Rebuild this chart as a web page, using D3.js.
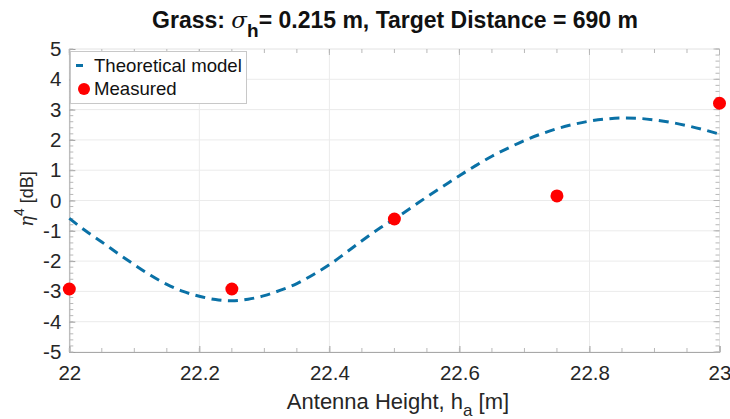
<!DOCTYPE html>
<html>
<head>
<meta charset="utf-8">
<script src="https://cdn.jsdelivr.net/npm/d3@7"></script>
<style>
  html, body { margin: 0; padding: 0; background: #fff; }
  svg { display: block; font-family: "Liberation Sans", Arial, sans-serif; }
</style>
</head>
<body>
<svg id="chart" width="730" height="419"></svg>
<script>
// ---- data ----
const modelHeight = [22.000, 22.025, 22.050, 22.075, 22.100, 22.125, 22.150, 22.175, 22.200, 22.225,
  22.250, 22.275, 22.300, 22.325, 22.350, 22.375, 22.400, 22.425, 22.450, 22.475,
  22.500, 22.525, 22.550, 22.575, 22.600, 22.625, 22.650, 22.675, 22.700, 22.725,
  22.750, 22.775, 22.800, 22.825, 22.850, 22.875, 22.900, 22.925, 22.950, 22.975, 23.000];
const modelValue = [-0.59, -1.00, -1.37, -1.75, -2.12, -2.47, -2.77, -3.00, -3.16, -3.27,
  -3.31, -3.26, -3.14, -2.96, -2.74, -2.45, -2.12, -1.73, -1.33, -0.95,
  -0.61, -0.25, 0.12, 0.47, 0.82, 1.15, 1.46, 1.73, 1.98, 2.19,
  2.37, 2.51, 2.62, 2.69, 2.72, 2.71, 2.66, 2.58, 2.47, 2.34, 2.19];
const measuredHeight = [22.00, 22.25, 22.50, 22.75, 23.00];
const measuredValue = [-2.92, -2.92, -0.61, 0.15, 3.21];
const xTicks = [22, 22.2, 22.4, 22.6, 22.8, 23];
const yTicks = [-5, -4, -3, -2, -1, 0, 1, 2, 3, 4, 5];
const legendLabels = ["Theoretical model", "Measured"];

// ---- layout ----
const svg = d3.select("#chart");
const L = 69.3, R = 719.5, T = 49, B = 352;
const x = d3.scaleLinear().domain([22, 23]).range([L, R]);
const y = d3.scaleLinear().domain([-5, 5]).range([B, T]);
const lineColor = "#0a71a6";
const textColor = "#262626";

// grid
const grid = svg.append("g");
grid.selectAll("line.gx").data(xTicks).join("line")
  .attr("x1", d => x(d)).attr("x2", d => x(d)).attr("y1", T).attr("y2", B)
  .attr("stroke", "#ebebeb").attr("stroke-width", 1);
grid.selectAll("line.gy").data(yTicks).join("line")
  .attr("y1", d => y(d)).attr("y2", d => y(d)).attr("x1", L).attr("x2", R)
  .attr("stroke", "#ebebeb").attr("stroke-width", 1);

// box edges (top / right faint)
svg.append("line").attr("x1", L).attr("x2", R).attr("y1", T).attr("y2", T).attr("stroke", "#ececec");
svg.append("line").attr("x1", R).attr("x2", R).attr("y1", T).attr("y2", B).attr("stroke", "#e6e6e6");

// minor tick values
const xMinor = d3.range(0, 21).map(i => 22 + i * 0.05);
const yMinor = d3.range(0, 51).map(i => -5 + i * 0.2);

// axes (inward ticks)
const fmt = d => String(d);
const xAxis = d3.axisBottom(x).tickValues(xTicks).tickFormat(fmt).tickSize(-6).tickPadding(13);
const yAxis = d3.axisLeft(y).tickValues(yTicks).tickFormat(fmt).tickSize(-6).tickPadding(8);

const gx = svg.append("g").attr("transform", `translate(0,${B})`).call(xAxis);
const gy = svg.append("g").attr("transform", `translate(${L},0)`).call(yAxis);
[gx, gy].forEach(g => {
  g.select(".domain").attr("stroke", "#a8a8a8");
  g.selectAll(".tick line").attr("stroke", "#a0a0a0");
  g.selectAll(".tick text").attr("fill", textColor).style("font-size", "20.5px")
    .style("font-family", "'Liberation Sans', Arial, sans-serif");
});

// minor ticks
const mt = svg.append("g").attr("stroke", "#b8b8b8").attr("stroke-width", 1);
mt.selectAll("line.xb").data(xMinor).join("line")
  .attr("x1", d => x(d)).attr("x2", d => x(d)).attr("y1", B).attr("y2", B - 4);
mt.selectAll("line.xt").data(xMinor).join("line")
  .attr("x1", d => x(d)).attr("x2", d => x(d)).attr("y1", T).attr("y2", T + 4);
mt.selectAll("line.yl").data(yMinor).join("line")
  .attr("y1", d => y(d)).attr("y2", d => y(d)).attr("x1", L).attr("x2", L + 4);
mt.selectAll("line.yr").data(yMinor).join("line")
  .attr("y1", d => y(d)).attr("y2", d => y(d)).attr("x1", R).attr("x2", R - 4);
mt.selectAll("line.yrm").data(yTicks).join("line")
  .attr("y1", d => y(d)).attr("y2", d => y(d)).attr("x1", R).attr("x2", R - 6);
mt.selectAll("line.xtm").data(xTicks).join("line")
  .attr("x1", d => x(d)).attr("x2", d => x(d)).attr("y1", T).attr("y2", T + 6);

// model curve
const modelData = modelHeight.map((h, i) => [h, modelValue[i]]);
svg.append("path").datum(modelData)
  .attr("fill", "none").attr("stroke", lineColor).attr("stroke-width", 3)
  .attr("stroke-dasharray", "10,6.5")
  .attr("d", d3.line().curve(d3.curveMonotoneX).x(d => x(d[0])).y(d => y(d[1])));

// measured points
svg.selectAll("circle.m").data(measuredHeight.map((h, i) => [h, measuredValue[i]])).join("circle")
  .attr("cx", d => x(d[0])).attr("cy", d => y(d[1])).attr("r", 6.5).attr("fill", "#ff0000");

// legend
const lg = svg.append("g");
lg.append("rect").attr("x", 70.5).attr("y", 51.5).attr("width", 176).attr("height", 52)
  .attr("fill", "#fff").attr("stroke", "#c8c8c8").attr("stroke-width", 1);
lg.append("line").attr("x1", 76).attr("x2", 83).attr("y1", 65.5).attr("y2", 65.5)
  .attr("stroke", lineColor).attr("stroke-width", 3);
lg.append("circle").attr("cx", 84).attr("cy", 89).attr("r", 6).attr("fill", "#ff0000");
lg.selectAll("text").data(legendLabels).join("text")
  .attr("x", 94).attr("y", (d, i) => 71.5 + i * 23.5)
  .attr("fill", "#111").style("font-size", "18.6px").text(d => d);

// title
const title = svg.append("text").attr("x", 395).attr("y", 28).attr("text-anchor", "middle")
  .attr("fill", "#111").style("font-size", "23px").style("font-weight", "bold");
title.append("tspan").text("Grass: ");
title.append("tspan").style("font-style", "italic").style("font-weight", "normal")
  .style("font-family", "'DejaVu Serif', serif").text("σ");
title.append("tspan").attr("dy", 9).style("font-size", "19px").text("h");
title.append("tspan").attr("dy", -9).text("= 0.215 m, Target Distance = 690 m");

// x axis title
const xt = svg.append("text").attr("x", 398).attr("y", 409).attr("text-anchor", "middle")
  .attr("fill", textColor).style("font-size", "22px");
xt.append("tspan").text("Antenna Height, h");
xt.append("tspan").attr("dy", 7).style("font-size", "17px").text("a");
xt.append("tspan").attr("dy", -7).text(" [m]");

// y axis title
const yt = svg.append("text").attr("transform", "translate(33,199) rotate(-90)")
  .attr("text-anchor", "middle").attr("fill", textColor).style("font-size", "18px");
yt.append("tspan").style("font-style", "italic").style("font-family", "'DejaVu Serif', serif").text("η");
yt.append("tspan").attr("dy", -9).style("font-size", "14px").text("4");
yt.append("tspan").attr("dy", 9).text(" [dB]");
</script>
</body>
</html>
